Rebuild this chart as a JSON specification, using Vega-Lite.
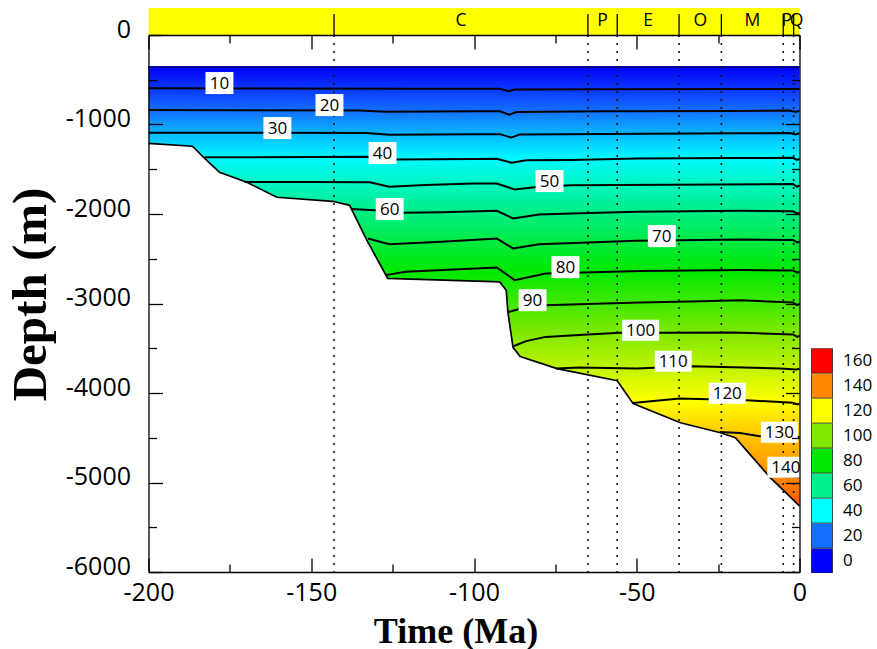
{
  "$schema": "https://vega.github.io/schema/vega-lite/v6.json",
  "padding": {"left": 6.5, "top": 8, "right": 5, "bottom": 5},
  "background": "white",
  "config": {
    "view": {"stroke": null},
    "font": "Open Sans",
    "axis": {
      "grid": false,
      "domainColor": "#000",
      "domainWidth": 1.3,
      "tickColor": "#000",
      "tickWidth": 1.3,
      "labelColor": "#000",
      "labelFont": "Open Sans",
      "labelFontSize": 25,
      "titleFont": "Liberation Serif",
      "titleFontWeight": "bold",
      "titleFontSize": 36,
      "titleColor": "#000"
    }
  },
  "datasets": {
    "periods": [
      {"start": -200, "end": -143, "mid": -171.5, "label": ""},
      {"start": -143, "end": -65, "mid": -104, "label": "C"},
      {"start": -65, "end": -56, "mid": -60.5, "label": "P"},
      {"start": -56, "end": -37, "mid": -46.5, "label": "E"},
      {"start": -37, "end": -24, "mid": -30.5, "label": "O"},
      {"start": -24, "end": -5, "mid": -14.5, "label": "M"},
      {"start": -5, "end": -1.8, "mid": -3.9, "label": "P"},
      {"start": -1.8, "end": 0, "mid": -0.9, "label": "Q"}
    ],
    "basement": [
      {"t": -200, "d": -1210}, {"t": -186.5, "d": -1243}, {"t": -182.8, "d": -1377},
      {"t": -178.2, "d": -1534}, {"t": -169.8, "d": -1645}, {"t": -160.6, "d": -1813},
      {"t": -143.4, "d": -1858}, {"t": -138.2, "d": -1903}, {"t": -132.9, "d": -2295},
      {"t": -126.5, "d": -2720}, {"t": -92.1, "d": -2759}, {"t": -90.1, "d": -2852},
      {"t": -89.6, "d": -3094}, {"t": -88, "d": -3492}, {"t": -85.8, "d": -3593},
      {"t": -74.5, "d": -3727}, {"t": -56, "d": -3862}, {"t": -51.1, "d": -4119},
      {"t": -36.6, "d": -4332}, {"t": -24.3, "d": -4444}, {"t": -19.7, "d": -4500},
      {"t": -8.9, "d": -4948}, {"t": 0, "d": -5261}
    ],
    "isotherms": [
      {"T": 10, "t": -200, "d": -596}, {"T": 10, "t": -160, "d": -598}, {"T": 10, "t": -120, "d": -600},
      {"T": 10, "t": -92, "d": -600}, {"T": 10, "t": -89.4, "d": -628}, {"T": 10, "t": -87.5, "d": -608},
      {"T": 10, "t": -60, "d": -606}, {"T": 10, "t": -20, "d": -604}, {"T": 10, "t": 0, "d": -604},

      {"T": 20, "t": -200, "d": -839}, {"T": 20, "t": -170, "d": -840}, {"T": 20, "t": -135, "d": -843},
      {"T": 20, "t": -127, "d": -857}, {"T": 20, "t": -100, "d": -852}, {"T": 20, "t": -92, "d": -852},
      {"T": 20, "t": -89.2, "d": -890}, {"T": 20, "t": -87, "d": -860}, {"T": 20, "t": -60, "d": -852},
      {"T": 20, "t": -20, "d": -848}, {"T": 20, "t": -3, "d": -843}, {"T": 20, "t": -1.2, "d": -860},
      {"T": 20, "t": 0, "d": -848},

      {"T": 30, "t": -200, "d": -1092}, {"T": 30, "t": -170, "d": -1092}, {"T": 30, "t": -133, "d": -1095},
      {"T": 30, "t": -126, "d": -1115}, {"T": 30, "t": -100, "d": -1108}, {"T": 30, "t": -92, "d": -1108},
      {"T": 30, "t": -88.6, "d": -1146}, {"T": 30, "t": -86, "d": -1112}, {"T": 30, "t": -60, "d": -1105},
      {"T": 30, "t": -20, "d": -1098}, {"T": 30, "t": -3, "d": -1095}, {"T": 30, "t": -1.2, "d": -1112},
      {"T": 30, "t": 0, "d": -1098},

      {"T": 40, "t": -182.8, "d": -1367}, {"T": 40, "t": -150, "d": -1362}, {"T": 40, "t": -133, "d": -1360},
      {"T": 40, "t": -124, "d": -1390}, {"T": 40, "t": -100, "d": -1385}, {"T": 40, "t": -93, "d": -1382},
      {"T": 40, "t": -88.4, "d": -1428}, {"T": 40, "t": -84, "d": -1400}, {"T": 40, "t": -70, "d": -1398},
      {"T": 40, "t": -50, "d": -1380}, {"T": 40, "t": -20, "d": -1375}, {"T": 40, "t": -2, "d": -1372},
      {"T": 40, "t": -0.8, "d": -1395}, {"T": 40, "t": 0, "d": -1385},

      {"T": 50, "t": -170.5, "d": -1642}, {"T": 50, "t": -150, "d": -1642}, {"T": 50, "t": -132, "d": -1645},
      {"T": 50, "t": -126, "d": -1696}, {"T": 50, "t": -115, "d": -1675}, {"T": 50, "t": -100, "d": -1660},
      {"T": 50, "t": -93, "d": -1660}, {"T": 50, "t": -87.5, "d": -1725}, {"T": 50, "t": -80, "d": -1695},
      {"T": 50, "t": -70, "d": -1680}, {"T": 50, "t": -40, "d": -1672}, {"T": 50, "t": -2, "d": -1666},
      {"T": 50, "t": -0.7, "d": -1696}, {"T": 50, "t": 0, "d": -1680},

      {"T": 60, "t": -137.8, "d": -1945}, {"T": 60, "t": -130.5, "d": -1957}, {"T": 60, "t": -122, "d": -1987},
      {"T": 60, "t": -110, "d": -1980}, {"T": 60, "t": -93, "d": -1964}, {"T": 60, "t": -88, "d": -2049},
      {"T": 60, "t": -80, "d": -2005}, {"T": 60, "t": -70, "d": -1995}, {"T": 60, "t": -50, "d": -1976},
      {"T": 60, "t": -18, "d": -1964}, {"T": 60, "t": -2, "d": -1968}, {"T": 60, "t": -0.7, "d": -1995},
      {"T": 60, "t": 0, "d": -1987},

      {"T": 70, "t": -132.6, "d": -2273}, {"T": 70, "t": -126, "d": -2337}, {"T": 70, "t": -110, "d": -2310},
      {"T": 70, "t": -93, "d": -2273}, {"T": 70, "t": -88, "d": -2385}, {"T": 70, "t": -80, "d": -2337},
      {"T": 70, "t": -50, "d": -2300}, {"T": 70, "t": -18, "d": -2284}, {"T": 70, "t": -2, "d": -2290},
      {"T": 70, "t": -0.7, "d": -2318}, {"T": 70, "t": 0, "d": -2311},

      {"T": 80, "t": -127.1, "d": -2683}, {"T": 80, "t": -121, "d": -2646}, {"T": 80, "t": -93, "d": -2597},
      {"T": 80, "t": -87.5, "d": -2739}, {"T": 80, "t": -78, "d": -2664}, {"T": 80, "t": -49, "d": -2638},
      {"T": 80, "t": -18, "d": -2627}, {"T": 80, "t": -2, "d": -2630}, {"T": 80, "t": -0.7, "d": -2655},
      {"T": 80, "t": 0, "d": -2646},

      {"T": 90, "t": -89.4, "d": -3094}, {"T": 90, "t": -85, "d": -3050}, {"T": 90, "t": -78, "d": -3019},
      {"T": 90, "t": -60, "d": -3000}, {"T": 90, "t": -49, "d": -2990}, {"T": 90, "t": -30, "d": -2975},
      {"T": 90, "t": -18, "d": -2965}, {"T": 90, "t": -2, "d": -2990}, {"T": 90, "t": -0.7, "d": -3019},
      {"T": 90, "t": 0, "d": -3005},

      {"T": 100, "t": -88.1, "d": -3480}, {"T": 100, "t": -84, "d": -3420}, {"T": 100, "t": -78, "d": -3373},
      {"T": 100, "t": -65, "d": -3345}, {"T": 100, "t": -55, "d": -3328}, {"T": 100, "t": -43, "d": -3328},
      {"T": 100, "t": -20, "d": -3324}, {"T": 100, "t": -2, "d": -3345}, {"T": 100, "t": -0.7, "d": -3373},
      {"T": 100, "t": 0, "d": -3360},

      {"T": 110, "t": -74.7, "d": -3726}, {"T": 110, "t": -67.5, "d": -3715}, {"T": 110, "t": -50, "d": -3726},
      {"T": 110, "t": -33, "d": -3701}, {"T": 110, "t": -6, "d": -3726}, {"T": 110, "t": -1, "d": -3737},
      {"T": 110, "t": 0, "d": -3730},

      {"T": 120, "t": -51.2, "d": -4111}, {"T": 120, "t": -36.8, "d": -4062}, {"T": 120, "t": -16.3, "d": -4081},
      {"T": 120, "t": -2, "d": -4110}, {"T": 120, "t": -0.7, "d": -4128}, {"T": 120, "t": 0, "d": -4118},

      {"T": 130, "t": -24.5, "d": -4435}, {"T": 130, "t": -18.3, "d": -4446}, {"T": 130, "t": -12.2, "d": -4483},
      {"T": 130, "t": -4, "d": -4490}, {"T": 130, "t": 0, "d": -4491},

      {"T": 140, "t": -9.6, "d": -4915}, {"T": 140, "t": -5, "d": -4930}, {"T": 140, "t": 0, "d": -4942}
    ],
    "isolabels": [
      {"T": 10, "t": -178.2, "d": -537}, {"T": 20, "t": -144.4, "d": -783},
      {"T": 30, "t": -160.4, "d": -1040}, {"T": 40, "t": -128.1, "d": -1319},
      {"T": 50, "t": -76.8, "d": -1632}, {"T": 60, "t": -125.9, "d": -1945},
      {"T": 70, "t": -42.3, "d": -2247}, {"T": 80, "t": -71.9, "d": -2594},
      {"T": 90, "t": -82, "d": -2963}, {"T": 100, "t": -48.8, "d": -3298},
      {"T": 110, "t": -38.8, "d": -3645}, {"T": 120, "t": -22.2, "d": -4002},
      {"T": 130, "t": -6.2, "d": -4438}, {"T": 140, "t": -4.2, "d": -4830}
    ],
    "colorbar": [
      {"T": 0}, {"T": 20}, {"T": 40}, {"T": 60}, {"T": 80},
      {"T": 100}, {"T": 120}, {"T": 140}, {"T": 160}
    ]
  },
  "spacing": 0,
  "bounds": "flush",
  "vconcat": [
    {
      "width": 651,
      "height": 27,
      "data": {"name": "periods"},
      "layer": [
        {
          "mark": {"type": "rect", "color": "#ffff00"},
          "encoding": {
            "x": {"field": "start", "type": "quantitative", "scale": {"domain": [-200, 0], "nice": false, "zero": false}, "axis": null},
            "x2": {"field": "end"}
          }
        },
        {
          "transform": [{"filter": "datum.start > -200"}],
          "mark": {"type": "rule", "color": "#000", "strokeWidth": 1.3},
          "encoding": {
            "x": {"field": "start", "type": "quantitative", "scale": {"domain": [-200, 0], "nice": false, "zero": false}, "axis": null},
            "y": {"datum": 0, "type": "quantitative", "scale": {"domain": [0, 1], "nice": false}, "axis": null},
            "y2": {"datum": 0.78}
          }
        },
        {
          "transform": [{"filter": "datum.label != ''"}],
          "mark": {"type": "text", "font": "Open Sans", "fontSize": 17.5, "color": "#000", "align": "center", "baseline": "middle"},
          "encoding": {
            "x": {"field": "mid", "type": "quantitative", "scale": {"domain": [-200, 0], "nice": false, "zero": false}, "axis": null},
            "y": {"datum": 0.52, "type": "quantitative", "scale": {"domain": [0, 1], "nice": false}, "axis": null},
            "text": {"field": "label"}
          }
        }
      ]
    },
    {
      "width": 651,
      "height": 537,
      "resolve": {"axis": {"x": "independent", "y": "independent"}},
      "layer": [
        {
          "data": {"name": "basement"},
          "mark": {
            "type": "area",
            "opacity": 1,
            "color": {
              "gradient": "linear",
              "x1": 0, "y1": 0, "x2": 0, "y2": 1,
              "stops": [
                {"offset": 0, "color": "#0000f8"},
                {"offset": 0.0503, "color": "#0a37ff"},
                {"offset": 0.1005, "color": "#1470ff"},
                {"offset": 0.1519, "color": "#0ab6ff"},
                {"offset": 0.2079, "color": "#00f8ff"},
                {"offset": 0.2676, "color": "#00f6c0"},
                {"offset": 0.3302, "color": "#00ee88"},
                {"offset": 0.3954, "color": "#00ea44"},
                {"offset": 0.4647, "color": "#00e800"},
                {"offset": 0.5371, "color": "#40e800"},
                {"offset": 0.6074, "color": "#80e800"},
                {"offset": 0.6859, "color": "#c0f400"},
                {"offset": 0.7613, "color": "#ffff00"},
                {"offset": 0.8408, "color": "#ffc400"},
                {"offset": 0.9335, "color": "#ff8800"},
                {"offset": 1, "color": "#ff5a00"}
              ]
            }
          },
          "encoding": {
            "x": {
              "field": "t", "type": "quantitative",
              "scale": {"domain": [-200, 0], "nice": false, "zero": false},
              "axis": {
                "orient": "bottom",
                "values": [-200, -175, -150, -125, -100, -75, -50, -25, 0],
                "tickSize": {"condition": {"test": "datum.value % 50 === 0", "value": -14}, "value": -8},
                "labelExpr": "datum.value % 50 === 0 ? (datum.value < 0 ? '-' + abs(datum.value) : '0') : ''",
                "labelPadding": 34,
                "labelBaseline": "middle",
                "labelFlush": false,
                "labelOverlap": false,
                "labelBound": false,
                "title": "Time (Ma)",
                "titleX": 307,
                "titleY": 59,
                "titleBaseline": "middle",
                "titleAlign": "center",
                "zindex": 1
              }
            },
            "y": {
              "field": "d", "type": "quantitative",
              "scale": {"domain": [-6000, 0], "nice": false, "zero": false},
              "axis": {
                "orient": "left",
                "values": [-6000, -5500, -5000, -4500, -4000, -3500, -3000, -2500, -2000, -1500, -1000, -500, 0],
                "tickSize": {"condition": {"test": "datum.value % 1000 === 0", "value": -14}, "value": -8},
                "labelExpr": "datum.value % 1000 === 0 ? (datum.value < 0 ? '-' + abs(datum.value) : '0') : ''",
                "labelPadding": 32,
                "labelOffset": -6,
                "labelFlush": false,
                "labelOverlap": false,
                "labelBound": false,
                "title": "Depth (m)",
                "titleFontSize": 49,
                "titleX": -118,
                "titleY": 259,
                "titleAngle": 270,
                "titleBaseline": "middle",
                "titleAlign": "center",
                "zindex": 1
              }
            },
            "y2": {"datum": -355}
          }
        },
        {
          "data": {"name": "basement"},
          "mark": {"type": "rule", "color": "#0000a0", "strokeWidth": 1},
          "encoding": {
            "y": {"datum": -355, "type": "quantitative", "scale": {"domain": [-6000, 0], "nice": false, "zero": false}, "axis": null}
          }
        },
        {
          "data": {"name": "isotherms"},
          "mark": {"type": "line", "color": "#000", "strokeWidth": 2},
          "encoding": {
            "x": {"field": "t", "type": "quantitative", "scale": {"domain": [-200, 0], "nice": false, "zero": false}, "axis": null},
            "y": {"field": "d", "type": "quantitative", "scale": {"domain": [-6000, 0], "nice": false, "zero": false}, "axis": null},
            "detail": {"field": "T", "type": "nominal"}
          }
        },
        {
          "data": {"name": "basement"},
          "mark": {"type": "line", "color": "#000", "strokeWidth": 1.7},
          "encoding": {
            "x": {
              "field": "t", "type": "quantitative",
              "scale": {"domain": [-200, 0], "nice": false, "zero": false},
              "axis": {
                "orient": "top",
                "values": [-200, -175, -150, -125, -100, -75, -50, -25, 0],
                "tickSize": {"condition": {"test": "datum.value % 50 === 0", "value": -14}, "value": -8},
                "labels": false,
                "title": null,
                "zindex": 1
              }
            },
            "y": {
              "field": "d", "type": "quantitative",
              "scale": {"domain": [-6000, 0], "nice": false, "zero": false},
              "axis": {
                "orient": "right",
                "values": [-6000, -5500, -5000, -4500, -4000, -3500, -3000, -2500, -2000, -1500, -1000, -500, 0],
                "tickSize": {"condition": {"test": "datum.value % 1000 === 0", "value": -14}, "value": -8},
                "labels": false,
                "title": null,
                "zindex": 1
              }
            }
          }
        },
        {
          "data": {"name": "periods"},
          "transform": [{"filter": "datum.start > -200"}],
          "mark": {"type": "rule", "color": "#111", "strokeWidth": 1.6, "strokeDash": [2, 6]},
          "encoding": {
            "x": {"field": "start", "type": "quantitative", "scale": {"domain": [-200, 0], "nice": false, "zero": false}, "axis": null}
          }
        },
        {
          "data": {"name": "isolabels"},
          "transform": [{"filter": "datum.T < 100"}],
          "mark": {"type": "point", "shape": "M-1.27,-1H1.27V1H-1.27Z", "size": 484, "filled": true, "color": "#ffffff", "opacity": 1, "strokeWidth": 0},
          "encoding": {
            "x": {"field": "t", "type": "quantitative", "scale": {"domain": [-200, 0], "nice": false, "zero": false}, "axis": null},
            "y": {"field": "d", "type": "quantitative", "scale": {"domain": [-6000, 0], "nice": false, "zero": false}, "axis": null}
          }
        },
        {
          "data": {"name": "isolabels"},
          "transform": [{"filter": "datum.T >= 100"}],
          "mark": {"type": "point", "shape": "M-1.76,-1H1.76V1H-1.76Z", "size": 441, "filled": true, "color": "#ffffff", "opacity": 1, "strokeWidth": 0},
          "encoding": {
            "x": {"field": "t", "type": "quantitative", "scale": {"domain": [-200, 0], "nice": false, "zero": false}, "axis": null},
            "y": {"field": "d", "type": "quantitative", "scale": {"domain": [-6000, 0], "nice": false, "zero": false}, "axis": null}
          }
        },
        {
          "data": {"name": "isolabels"},
          "mark": {"type": "text", "font": "Open Sans", "fontSize": 17, "color": "#000", "align": "center", "baseline": "middle", "dy": 1},
          "encoding": {
            "x": {"field": "t", "type": "quantitative", "scale": {"domain": [-200, 0], "nice": false, "zero": false}, "axis": null},
            "y": {"field": "d", "type": "quantitative", "scale": {"domain": [-6000, 0], "nice": false, "zero": false}, "axis": null},
            "text": {"field": "T", "type": "quantitative"}
          }
        },
        {
          "data": {"name": "colorbar"},
          "mark": {"type": "point", "filled": true, "opacity": 0},
          "encoding": {
            "color": {
              "field": "T", "type": "ordinal",
              "scale": {
                "domain": [160, 140, 120, 100, 80, 60, 40, 20, 0],
                "range": ["#ff0000", "#ff8800", "#ffff00", "#80e800", "#00e800", "#00f090", "#00ffff", "#1470ff", "#0000ff"]
              },
              "legend": {
                "title": null,
                "orient": "none",
                "direction": "vertical",
                "legendX": 660.5,
                "legendY": 340.3,
                "padding": 0,
                "rowPadding": 0,
                "clipHeight": 24.8,
                "symbolType": "M-0.847,-1H0.847V1H-0.847Z",
                "symbolSize": 615,
                "symbolStrokeColor": "#222",
                "symbolStrokeWidth": 0.8,
                "symbolOpacity": 1,
                "labelFont": "Open Sans",
                "labelFontSize": 17,
                "labelColor": "#000",
                "labelOffset": 8,
                "encode": {
                  "symbols": {
                    "update": {
                      "stroke": {"value": "#222"},
                      "strokeWidth": {"value": 0.8},
                      "opacity": {"value": 1},
                      "fillOpacity": {"value": 1}
                    }
                  }
                }
              }
            }
          }
        }
      ]
    }
  ]
}
